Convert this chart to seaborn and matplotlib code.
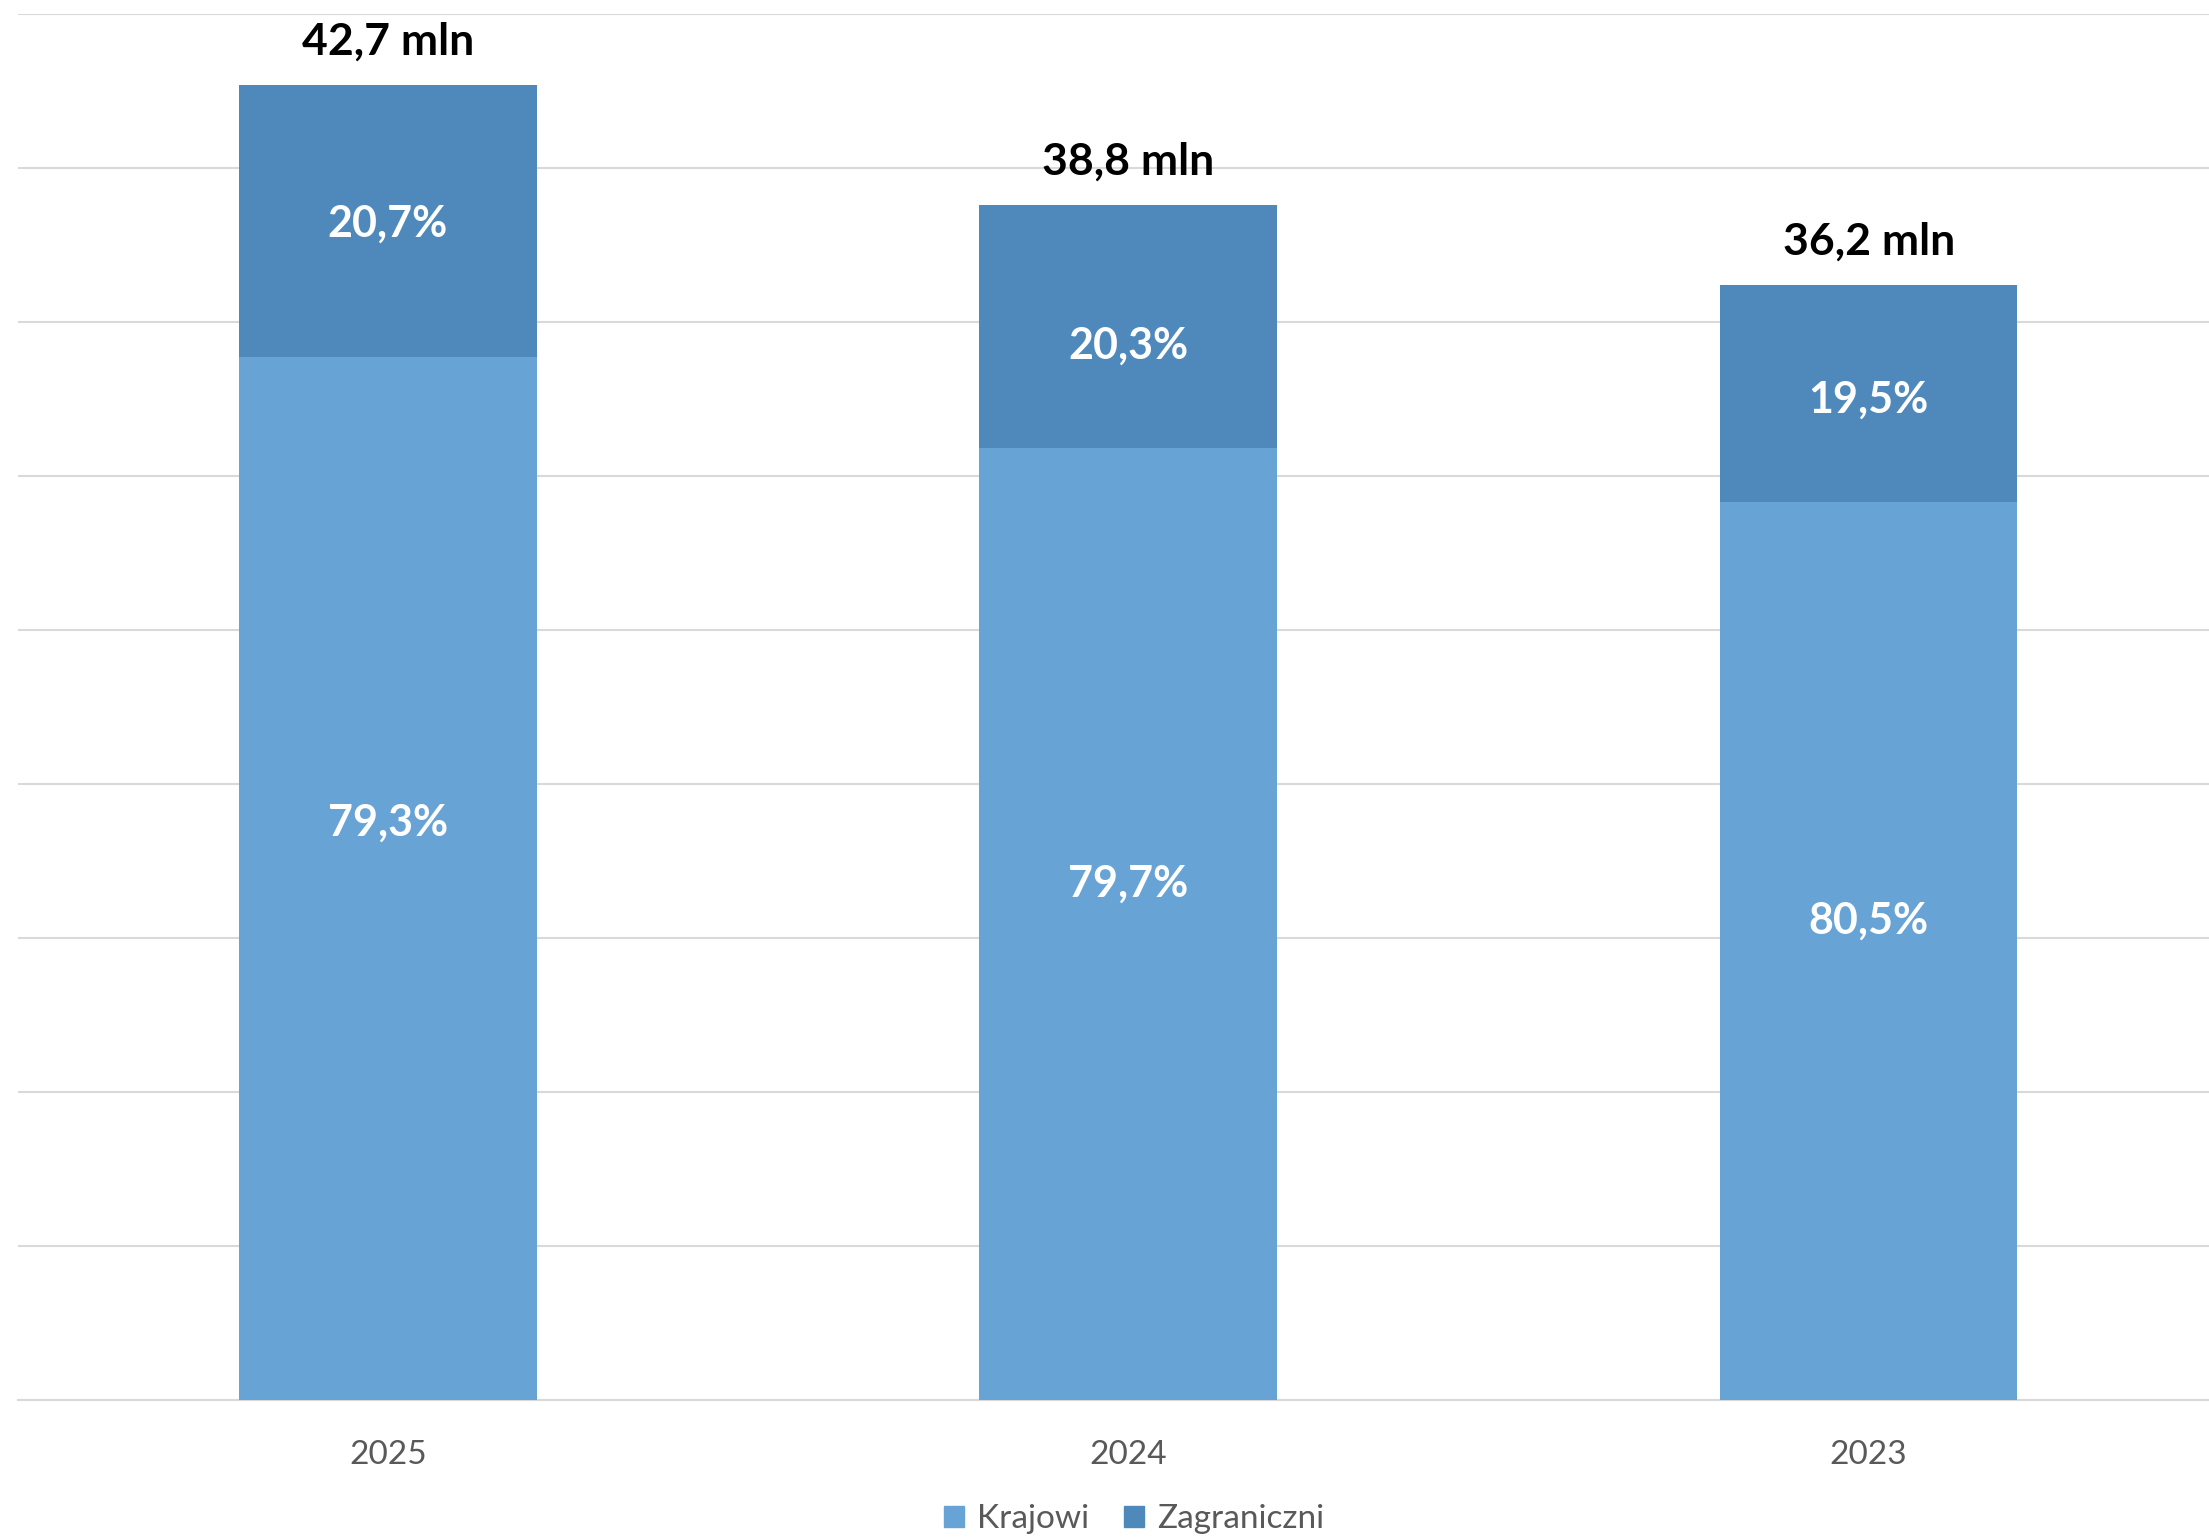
import pandas as pd
import seaborn as sns
from matplotlib import pyplot as plt
from matplotlib.patches import Patch

years = ["2025", "2024", "2023"]
totals = [42.7, 38.8, 36.2]            # mln
krajowi_pct = [79.3, 79.7, 80.5]
zagraniczni_pct = [20.7, 20.3, 19.5]

# small manual nudges of the in-bar labels (points, + = up), like in the original
nudge_kraj = [40, 29, 22]
nudge_zagr = [-2, -14, -4]

LIGHT = "#68A3D5"
DARK = "#4F89BC"
GRAY = "#595959"

df = pd.DataFrame({"rok": years, "total": totals,
                   "krajowi_pct": krajowi_pct, "zagr_pct": zagraniczni_pct})
df["krajowi"] = df["total"] * df["krajowi_pct"] / 100

sns.set_style("white")
plt.rcParams["font.family"] = ["Lato", "DejaVu Sans"]

fig = plt.figure(figsize=(22.09, 15.37), dpi=100)
ax = fig.add_axes([17.8 / 2209, 137 / 1537, 2221 / 2209, 1386 / 1537])

# full bar (dark) first, domestic part (light) on top of it
sns.barplot(data=df, x="rok", y="total", color=DARK, width=0.402,
            saturation=1, linewidth=0, ax=ax, zorder=3)
sns.barplot(data=df, x="rok", y="krajowi", color=LIGHT, width=0.402,
            saturation=1, linewidth=0, ax=ax, zorder=3)

ax.set_ylim(0, 45)
ax.set_xlim(-0.5, 2.5)
ax.set_yticks(range(0, 46, 5))
ax.set_yticklabels([])
ax.yaxis.grid(True, color="#D9D9D9", lw=1.5, zorder=0)
ax.set_axisbelow(True)
sns.despine(ax=ax, left=True, right=True, top=True)
ax.spines["bottom"].set_color("#D9D9D9")
ax.spines["bottom"].set_linewidth(1.5)
ax.tick_params(axis="both", length=0)
ax.tick_params(axis="x", labelsize=24, labelcolor=GRAY, pad=29)
ax.tick_params(axis="y", pad=0)
ax.set_xlabel("")
ax.set_ylabel("")

for i, row in df.iterrows():
    ax.annotate(f"{row['total']:.1f} mln".replace(".", ","), (i, row["total"]),
                xytext=(0, 22), textcoords="offset points", ha="center",
                va="baseline", fontsize=32, fontweight="bold", color="black")
    ax.annotate(f"{row['krajowi_pct']:.1f}%".replace(".", ","), (i, row["krajowi"] / 2),
                xytext=(0, nudge_kraj[i]), textcoords="offset points",
                ha="center", va="center", fontsize=31, fontweight="bold", color="white", zorder=5)
    ax.annotate(f"{row['zagr_pct']:.1f}%".replace(".", ","), (i, (row["krajowi"] + row["total"]) / 2),
                xytext=(0, nudge_zagr[i]), textcoords="offset points",
                ha="center", va="center", fontsize=31, fontweight="bold", color="white", zorder=5)

handles = [Patch(color=LIGHT, label="Krajowi"), Patch(color=DARK, label="Zagraniczni")]
leg = fig.legend(handles=handles, loc="center", bbox_to_anchor=(1134 / 2209, 1 - 1519 / 1537),
                 ncol=2, frameon=False, fontsize=24, handlelength=0.6, handleheight=0.6,
                 handletextpad=0.4, columnspacing=1.05, borderpad=0)
for t in leg.get_texts():
    t.set_color(GRAY)

plt.savefig("out.png", dpi=100)
